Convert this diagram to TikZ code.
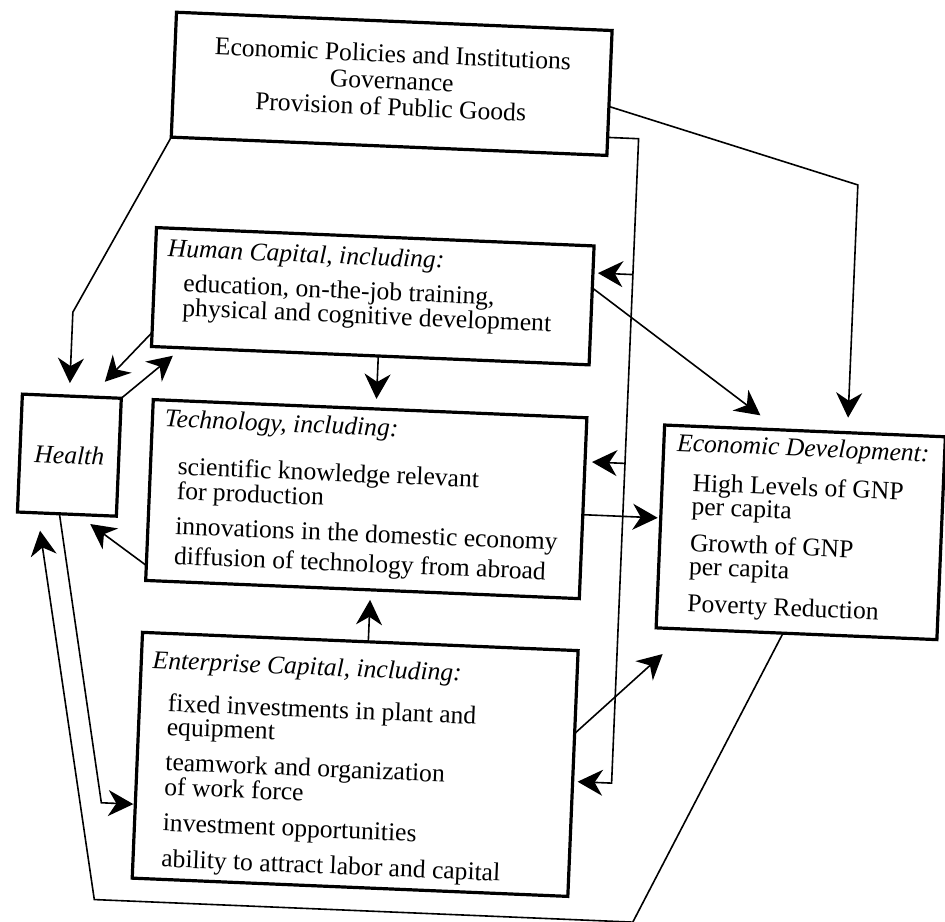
\documentclass[tikz,border=0pt]{standalone}
\usepackage{fontspec}
\setmainfont{Liberation Serif}
\usetikzlibrary{arrows.meta}
% left-aligned stack of lines whose baseline is the first line's baseline
\newcommand\leftlines[1]{\begin{tabular}[t]{@{}l@{}}#1\end{tabular}}
\newcommand\centrelines[1]{\begin{tabular}[t]{@{}c@{}}#1\end{tabular}}
\begin{document}
\begin{tikzpicture}[x=0.5pt,y=-0.5pt,
  box/.style={draw, line width=1.6pt, inner sep=0pt, outer sep=0pt, anchor=north west},
  txt/.style={inner sep=0pt, anchor=mid west, font=\fontsize{12.8}{11}\selectfont},
  stack/.style={inner sep=0pt, anchor=base west, font=\fontsize{12.8}{11}\selectfont},
  head/.style={txt, font=\fontsize{12.8}{11}\selectfont\itshape},
  arr/.style={line width=0.8pt, line join=miter, -{Stealth[length=12.5pt,width=13pt,inset=4pt]}},
  ]
\useasboundingbox (0,0) rectangle (945,921);
\begin{scope}[rotate around={-2.4:(472,460)}, transform shape]
  % boxes
  \node[box, minimum width=218pt, minimum height=62.5pt] (top) at (158,25) {};
  \node[box, minimum width=219pt, minimum height=59.5pt] (hc) at (147,241) {};
  \node[box, minimum width=49.5pt, minimum height=59pt,
        font=\fontsize{12.8}{14}\selectfont\itshape] (health) at (20,413) {Health};
  \node[box, minimum width=217pt, minimum height=90.5pt] (tech) at (151,413) {};
  \node[box, minimum width=218pt, minimum height=123pt] (ent) at (150,646) {};
  \node[box, minimum width=140.5pt, minimum height=101.5pt] (ed) at (663,417) {};

  % box texts
  \node[stack, anchor=base, font=\fontsize{12.8}{13.3}\selectfont] (pol) at (376,66)
    {\centrelines{Economic Policies and Institutions\\Governance\\Provision of Public Goods}};

  \node[head] (h0) at (159,265) {Human Capital, including:};
  \node[stack] (h1) at (176,304) {\leftlines{education, on-the-job training,\\physical and cognitive development}};

  \node[head] (k0) at (163,435) {Technology, including:};
  \node[stack] (k1) at (178,487) {\leftlines{scientific knowledge relevant\\for production}};
  \node[txt] (k3) at (178,542) {innovations in the domestic economy};
  \node[txt] (k4) at (178,572) {diffusion of technology from abroad};

  \node[head] (e0) at (161,677) {Enterprise Capital, including:};
  \node[stack] (e1) at (178,724) {\leftlines{fixed investments in plant and\\equipment}};
  \node[stack] (e3) at (178,783) {\leftlines{teamwork and organization\\of work force}};
  \node[txt] (e5) at (178,839) {investment opportunities};
  \node[txt] (e6) at (178,875) {ability to attract labor and capital};

  \node[head] (d0) at (676,438) {Economic Development:};
  \node[stack] (d1) at (693,482) {\leftlines{High Levels of GNP\\per capita}};
  \node[stack] (d3) at (693,542) {\leftlines{Growth of GNP\\per capita}};
  \node[txt] (d5) at (693,598) {Poverty Reduction};

  % bus on the right of the central column
  \coordinate (busHC) at (625,268);
  \coordinate (busTech) at (625,457);
  \draw[arr, shorten >=2.5pt] (top.east |- 0,132) -- (625,132) -- (625,777) -- (ent.east |- 0,777);
  \draw[arr, shorten >=2.5pt] (busHC) -- (hc.east |- busHC);
  \draw[arr, shorten >=3.5pt] (busTech) -- (tech.east |- busTech);

  % policies to health and to development
  \draw[arr, shorten >=6.5pt] (top.south west) -- (67,329) -- (health.north -| 67,0);
  \draw[arr, shorten >=7.5pt] (top.east |- 0,101) -- (846,169) -- (ed.north -| 846,0);

  % human capital links
  \draw[arr, shorten >=12pt] (hc.east |- 0,283) -- (ed.north -| 778,0);
  \draw[arr, shorten >=5pt] (hc.south -| 374,0) -- (tech.north -| 374,0);
  \draw[arr, shorten >=10.5pt] (hc.west |- 0,346) -- (health.north -| 88,0);
  \draw[arr, shorten >=6.25pt] (health.north east) -- (hc.south -| 178,0);

  % technology links
  \draw[arr, shorten >=8pt] (tech.west |- 0,579) -- (health.south -| 80,0);
  \draw[arr, shorten >=1.5pt] (tech.east |- 0,510) -- (ed.west |- 0,510);

  % health to enterprise capital
  \draw[arr, shorten >=1pt] (health.south -| 62,0) -- (116,818) -- (ent.west |- 0,818);

  % enterprise capital links
  \draw[arr, shorten >=18.5pt] (ent.east |- 0,729) -- (ed.south -| 697,0);
  \draw[arr, shorten >=5pt] (ent.north -| 376,0) -- (tech.south -| 376,0);

  % feedback from development back to health
  \draw[arr, shorten >=9pt] (ed.south -| 790,0) -- (652,915) -- (113,915) -- (health.south -| 40,0);
\end{scope}
\end{tikzpicture}
\end{document}
